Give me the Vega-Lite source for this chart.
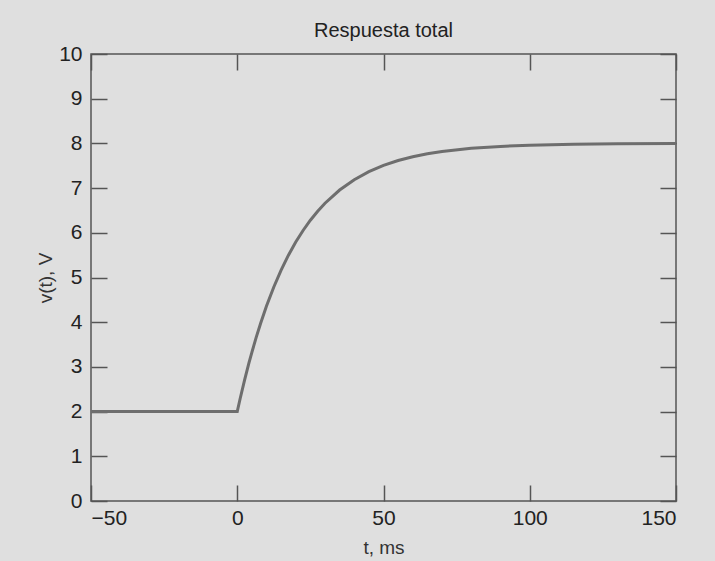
{
  "$schema": "https://vega.github.io/schema/vega-lite/v6.json",
  "width": 585,
  "height": 447,
  "autosize": {"type": "none"},
  "padding": {"left": 91, "top": 54, "right": 39, "bottom": 60},
  "background": "#dfdfdf",
  "title": {"text": "Respuesta total", "font": "Liberation Sans", "fontSize": 20, "fontWeight": "normal", "color": "#222", "offset": 2},
  "config": {
    "view": {"stroke": "#555", "strokeWidth": 1.5, "fill": null},
    "axis": {"grid": false, "domain": false, "tickColor": "#555", "tickWidth": 1.5, "tickSize": -16, "labelFont": "Liberation Sans", "labelFontSize": 21, "labelColor": "#222", "titleFont": "Liberation Sans", "titleFontSize": 19, "titleFontWeight": "normal", "titleColor": "#333"}
  },
  "data": {"values": [
    {"t": -50, "v": 2.0},
    {"t": 0, "v": 2.0},
    {"t": 1, "v": 2.293},
    {"t": 2.5, "v": 2.705},
    {"t": 4, "v": 3.088},
    {"t": 5, "v": 3.327},
    {"t": 6.5, "v": 3.665},
    {"t": 8, "v": 3.978},
    {"t": 10, "v": 4.361},
    {"t": 12.5, "v": 4.788},
    {"t": 15, "v": 5.166},
    {"t": 17.5, "v": 5.499},
    {"t": 20, "v": 5.793},
    {"t": 22.5, "v": 6.052},
    {"t": 25, "v": 6.281},
    {"t": 27.5, "v": 6.483},
    {"t": 30, "v": 6.661},
    {"t": 35, "v": 6.957},
    {"t": 40, "v": 7.188},
    {"t": 45, "v": 7.368},
    {"t": 50, "v": 7.507},
    {"t": 55, "v": 7.617},
    {"t": 60, "v": 7.701},
    {"t": 65, "v": 7.767},
    {"t": 70, "v": 7.819},
    {"t": 80, "v": 7.890},
    {"t": 90, "v": 7.933},
    {"t": 100, "v": 7.960},
    {"t": 115, "v": 7.981},
    {"t": 130, "v": 7.991},
    {"t": 150, "v": 7.997}
  ]},
  "layer": [
    {
      "mark": {"type": "line", "color": "#6e6e6e", "strokeWidth": 3, "clip": true, "strokeJoin": "miter"},
      "encoding": {
        "x": {"field": "t", "type": "quantitative", "scale": {"domain": [-50, 150], "nice": false, "zero": false},
              "axis": {"orient": "bottom", "values": [-50, 0, 50, 100, 150], "labelPadding": 22, "title": "t, ms", "titlePadding": 10}},
        "y": {"field": "v", "type": "quantitative", "scale": {"domain": [0, 10], "nice": false, "zero": false},
              "axis": {"orient": "left", "values": [0, 1, 2, 3, 4, 5, 6, 7, 8, 9, 10], "labelPadding": 25, "title": "v(t), V", "titlePadding": 3}}
      }
    },
    {
      "mark": {"type": "line", "opacity": 0},
      "encoding": {
        "x": {"field": "t", "type": "quantitative", "axis": {"orient": "top", "values": [-50, 0, 50, 100, 150], "labels": false, "title": null}},
        "y": {"field": "v", "type": "quantitative", "axis": {"orient": "right", "values": [0, 1, 2, 3, 4, 5, 6, 7, 8, 9, 10], "labels": false, "title": null}}
      }
    }
  ],
  "resolve": {"axis": {"x": "independent", "y": "independent"}}
}
